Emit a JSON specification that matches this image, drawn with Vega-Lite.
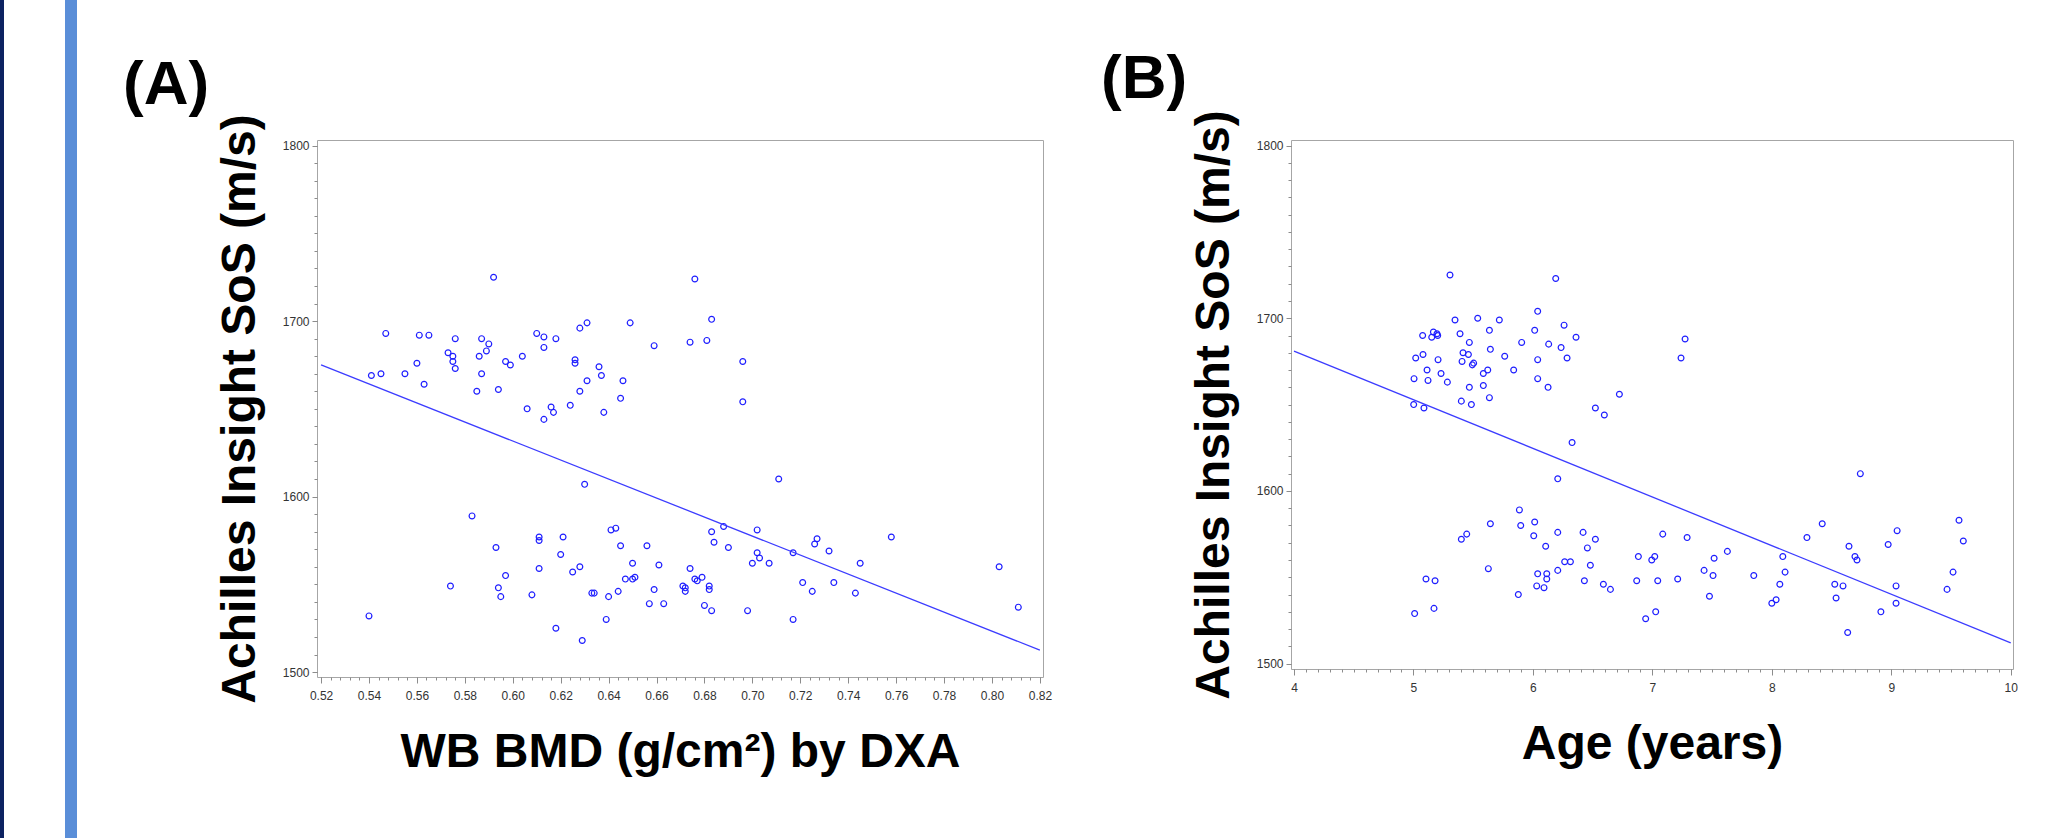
{
  "$schema": "https://vega.github.io/schema/vega-lite/v6.json",
  "background": "white",
  "padding": 0,
  "config": {
    "view": {"stroke": "#a6a6a6", "strokeWidth": 1},
    "axis": {"labelFont": "Liberation Sans", "labelFontSize": 12, "labelColor": "#333333", "titleFont": "Liberation Sans", "titleFontSize": 48, "titleFontWeight": "bold", "titleColor": "#000000", "tickColor": "#8c8c8c", "domain": false, "grid": false, "labelFlush": false, "labelOverlap": false},
    "title": {"font": "Liberation Sans", "fontWeight": "bold", "color": "#000000"}
  },
  "datasets": {
    "bmd": [
      {"bmd":0.592,"sos":1725},{"bmd":0.676,"sos":1724},{"bmd":0.547,"sos":1693},{"bmd":0.561,"sos":1692},{"bmd":0.565,"sos":1692},
      {"bmd":0.576,"sos":1690},{"bmd":0.587,"sos":1690},{"bmd":0.590,"sos":1687},{"bmd":0.589,"sos":1683},{"bmd":0.573,"sos":1682},
      {"bmd":0.575,"sos":1680},{"bmd":0.575,"sos":1677},{"bmd":0.576,"sos":1673},{"bmd":0.586,"sos":1680},{"bmd":0.587,"sos":1670},
      {"bmd":0.560,"sos":1676},{"bmd":0.541,"sos":1669},{"bmd":0.545,"sos":1670},{"bmd":0.555,"sos":1670},{"bmd":0.563,"sos":1664},
      {"bmd":0.585,"sos":1660},{"bmd":0.594,"sos":1661},{"bmd":0.597,"sos":1677},{"bmd":0.599,"sos":1675},{"bmd":0.604,"sos":1680},
      {"bmd":0.610,"sos":1693},{"bmd":0.613,"sos":1691},{"bmd":0.613,"sos":1685},{"bmd":0.618,"sos":1690},{"bmd":0.606,"sos":1650},
      {"bmd":0.616,"sos":1651},{"bmd":0.617,"sos":1648},{"bmd":0.613,"sos":1644},{"bmd":0.624,"sos":1652},{"bmd":0.626,"sos":1678},
      {"bmd":0.626,"sos":1676},{"bmd":0.628,"sos":1696},{"bmd":0.631,"sos":1699},{"bmd":0.636,"sos":1674},{"bmd":0.637,"sos":1669},
      {"bmd":0.631,"sos":1666},{"bmd":0.628,"sos":1660},{"bmd":0.638,"sos":1648},{"bmd":0.645,"sos":1656},{"bmd":0.646,"sos":1666},
      {"bmd":0.649,"sos":1699},{"bmd":0.659,"sos":1686},{"bmd":0.674,"sos":1688},{"bmd":0.681,"sos":1689},{"bmd":0.683,"sos":1701},
      {"bmd":0.696,"sos":1677},{"bmd":0.696,"sos":1654},{"bmd":0.630,"sos":1607},{"bmd":0.711,"sos":1610},{"bmd":0.583,"sos":1589},
      {"bmd":0.641,"sos":1581},{"bmd":0.643,"sos":1582},{"bmd":0.688,"sos":1583},{"bmd":0.683,"sos":1580},{"bmd":0.702,"sos":1581},
      {"bmd":0.611,"sos":1577},{"bmd":0.611,"sos":1575},{"bmd":0.621,"sos":1577},{"bmd":0.593,"sos":1571},{"bmd":0.645,"sos":1572},
      {"bmd":0.656,"sos":1572},{"bmd":0.684,"sos":1574},{"bmd":0.690,"sos":1571},{"bmd":0.702,"sos":1568},{"bmd":0.703,"sos":1565},
      {"bmd":0.717,"sos":1568},{"bmd":0.620,"sos":1567},{"bmd":0.611,"sos":1559},{"bmd":0.628,"sos":1560},{"bmd":0.625,"sos":1557},
      {"bmd":0.597,"sos":1555},{"bmd":0.650,"sos":1562},{"bmd":0.661,"sos":1561},{"bmd":0.700,"sos":1562},{"bmd":0.707,"sos":1562},
      {"bmd":0.674,"sos":1559},{"bmd":0.676,"sos":1553},{"bmd":0.677,"sos":1552},{"bmd":0.679,"sos":1554},{"bmd":0.671,"sos":1549},
      {"bmd":0.672,"sos":1548},{"bmd":0.672,"sos":1546},{"bmd":0.682,"sos":1549},{"bmd":0.682,"sos":1547},{"bmd":0.647,"sos":1553},
      {"bmd":0.650,"sos":1553},{"bmd":0.651,"sos":1554},{"bmd":0.659,"sos":1547},{"bmd":0.574,"sos":1549},{"bmd":0.594,"sos":1548},
      {"bmd":0.595,"sos":1543},{"bmd":0.608,"sos":1544},{"bmd":0.633,"sos":1545},{"bmd":0.634,"sos":1545},{"bmd":0.640,"sos":1543},
      {"bmd":0.644,"sos":1546},{"bmd":0.657,"sos":1539},{"bmd":0.663,"sos":1539},{"bmd":0.680,"sos":1538},{"bmd":0.683,"sos":1535},
      {"bmd":0.698,"sos":1535},{"bmd":0.717,"sos":1530},{"bmd":0.639,"sos":1530},{"bmd":0.540,"sos":1532},{"bmd":0.618,"sos":1525},
      {"bmd":0.629,"sos":1518},{"bmd":0.721,"sos":1551},{"bmd":0.725,"sos":1546},{"bmd":0.726,"sos":1573},{"bmd":0.727,"sos":1576},
      {"bmd":0.732,"sos":1569},{"bmd":0.734,"sos":1551},{"bmd":0.743,"sos":1545},{"bmd":0.745,"sos":1562},{"bmd":0.758,"sos":1577},
      {"bmd":0.803,"sos":1560},{"bmd":0.811,"sos":1537}
    ],
    "age": [
      {"age":5.306,"sos":1725},{"age":6.191,"sos":1723},{"age":6.040,"sos":1704},{"age":5.538,"sos":1700},{"age":5.348,"sos":1699},
      {"age":5.719,"sos":1699},{"age":6.261,"sos":1696},{"age":5.167,"sos":1692},{"age":5.197,"sos":1691},{"age":5.203,"sos":1690},
      {"age":5.077,"sos":1690},{"age":5.153,"sos":1689},{"age":5.390,"sos":1691},{"age":5.636,"sos":1693},{"age":6.015,"sos":1693},
      {"age":6.361,"sos":1689},{"age":5.468,"sos":1686},{"age":5.906,"sos":1686},{"age":6.132,"sos":1685},{"age":6.236,"sos":1683},
      {"age":7.274,"sos":1688},{"age":7.240,"sos":1677},{"age":5.415,"sos":1680},{"age":5.460,"sos":1679},{"age":5.644,"sos":1682},
      {"age":5.080,"sos":1679},{"age":5.019,"sos":1677},{"age":5.206,"sos":1676},{"age":5.407,"sos":1675},{"age":5.493,"sos":1673},
      {"age":5.504,"sos":1674},{"age":5.764,"sos":1678},{"age":6.040,"sos":1676},{"age":6.286,"sos":1677},{"age":5.114,"sos":1670},
      {"age":5.231,"sos":1668},{"age":5.585,"sos":1668},{"age":5.622,"sos":1670},{"age":5.839,"sos":1670},{"age":5.005,"sos":1665},
      {"age":5.122,"sos":1664},{"age":5.284,"sos":1663},{"age":5.468,"sos":1660},{"age":5.585,"sos":1661},{"age":6.040,"sos":1665},
      {"age":6.127,"sos":1660},{"age":6.724,"sos":1656},{"age":5.636,"sos":1654},{"age":5.401,"sos":1652},{"age":5.485,"sos":1650},
      {"age":5.002,"sos":1650},{"age":5.088,"sos":1648},{"age":6.523,"sos":1648},{"age":6.598,"sos":1644},{"age":6.328,"sos":1628},
      {"age":6.208,"sos":1607},{"age":5.887,"sos":1589},{"age":5.644,"sos":1581},{"age":5.898,"sos":1580},{"age":6.015,"sos":1582},
      {"age":5.446,"sos":1575},{"age":5.401,"sos":1572},{"age":6.208,"sos":1576},{"age":6.420,"sos":1576},{"age":6.007,"sos":1574},
      {"age":7.087,"sos":1575},{"age":7.291,"sos":1573},{"age":6.523,"sos":1572},{"age":6.107,"sos":1568},{"age":6.456,"sos":1567},
      {"age":7.628,"sos":1565},{"age":6.883,"sos":1562},{"age":6.995,"sos":1560},{"age":7.020,"sos":1562},{"age":7.517,"sos":1561},
      {"age":6.266,"sos":1559},{"age":6.314,"sos":1559},{"age":6.481,"sos":1557},{"age":5.627,"sos":1555},{"age":6.208,"sos":1554},
      {"age":6.040,"sos":1552},{"age":6.116,"sos":1552},{"age":6.116,"sos":1549},{"age":7.433,"sos":1554},{"age":7.508,"sos":1551},
      {"age":7.849,"sos":1551},{"age":5.105,"sos":1549},{"age":5.181,"sos":1548},{"age":6.431,"sos":1548},{"age":6.869,"sos":1548},
      {"age":7.045,"sos":1548},{"age":7.212,"sos":1549},{"age":6.032,"sos":1545},{"age":6.093,"sos":1544},{"age":6.590,"sos":1546},
      {"age":6.649,"sos":1543},{"age":5.878,"sos":1540},{"age":7.478,"sos":1539},{"age":5.172,"sos":1532},{"age":5.010,"sos":1529},
      {"age":7.028,"sos":1530},{"age":6.944,"sos":1526},{"age":8.000,"sos":1535},{"age":8.036,"sos":1537},{"age":8.067,"sos":1546},
      {"age":8.092,"sos":1562},{"age":8.111,"sos":1553},{"age":8.294,"sos":1573},{"age":8.422,"sos":1581},{"age":8.527,"sos":1546},
      {"age":8.596,"sos":1545},{"age":8.538,"sos":1538},{"age":8.635,"sos":1518},{"age":8.646,"sos":1568},{"age":8.696,"sos":1562},
      {"age":8.713,"sos":1560},{"age":8.741,"sos":1610},{"age":8.913,"sos":1530},{"age":8.974,"sos":1569},{"age":9.040,"sos":1545},
      {"age":9.040,"sos":1535},{"age":9.049,"sos":1577},{"age":9.467,"sos":1543},{"age":9.517,"sos":1553},{"age":9.567,"sos":1583},
      {"age":9.603,"sos":1571}
    ],
    "lineA": [{"bmd":0.52,"sos":1675},{"bmd":0.82,"sos":1512.5}],
    "lineB": [{"age":4,"sos":1681},{"age":10,"sos":1512}]
  },
  "spacing": 45,
  "hconcat": [
    {
      "spacing": 61,
      "hconcat": [
        {"width": 4, "height": 838, "data": {"values": []}, "mark": "point", "view": {"fill": "#0D2261", "stroke": null}},
        {"width": 12, "height": 838, "data": {"values": []}, "mark": "point", "view": {"fill": "#5A8ED8", "stroke": null}}
      ]
    },
    {
      "spacing": 37,
      "vconcat": [
        {"width": 1, "height": 10, "data": {"values": []}, "mark": "point", "view": {"stroke": null}},
        {
          "spacing": 47,
          "hconcat": [
            {
              "width": 726,
              "height": 537,
              "title": {"text": "(A)", "anchor": "start", "frame": "group", "fontSize": 62, "dx": -194, "offset": -3},
              "resolve": {"axis": {"x": "independent", "y": "independent"}},
              "layer": [
                {
                  "data": {"name": "bmd"},
                  "mark": {"type": "point", "shape": "circle", "filled": false, "size": 34, "strokeWidth": 1.2, "color": "#1e1eff", "opacity": 1},
                  "encoding": {
                    "x": {"field": "bmd", "type": "quantitative", "scale": {"domain": [0.5183, 0.8213], "nice": false, "zero": false},
                      "axis": {"orient": "bottom", "values": [0.52,0.54,0.56,0.58,0.6,0.62,0.64,0.66,0.68,0.7,0.72,0.74,0.76,0.78,0.8,0.82], "format": ".2f", "tickSize": 6, "labelPadding": 7, "title": "WB BMD (g/cm²) by DXA", "titlePadding": 27}},
                    "y": {"field": "sos", "type": "quantitative", "scale": {"domain": [1497.2, 1803.2], "nice": false, "zero": false},
                      "axis": {"orient": "left", "values": [1500,1600,1700,1800], "format": "d", "tickSize": 5, "labelPadding": 3, "title": "Achilles Insight SoS (m/s)", "titlePadding": 18}}
                  }
                },
                {
                  "data": {"name": "lineA"},
                  "mark": {"type": "line", "color": "#3c3cff", "strokeWidth": 1.3},
                  "encoding": {
                    "x": {"field": "bmd", "type": "quantitative", "scale": {"domain": [0.5183, 0.8213], "nice": false, "zero": false},
                      "axis": {"orient": "bottom", "values": [0.52,0.524,0.528,0.532,0.536,0.54,0.544,0.548,0.552,0.556,0.56,0.564,0.568,0.572,0.576,0.58,0.584,0.588,0.592,0.596,0.6,0.604,0.608,0.612,0.616,0.62,0.624,0.628,0.632,0.636,0.64,0.644,0.648,0.652,0.656,0.66,0.664,0.668,0.672,0.676,0.68,0.684,0.688,0.692,0.696,0.7,0.704,0.708,0.712,0.716,0.72,0.724,0.728,0.732,0.736,0.74,0.744,0.748,0.752,0.756,0.76,0.764,0.768,0.772,0.776,0.78,0.784,0.788,0.792,0.796,0.8,0.804,0.808,0.812,0.816,0.82], "labels": false, "tickSize": 3, "title": null}},
                    "y": {"field": "sos", "type": "quantitative", "scale": {"domain": [1497.2, 1803.2], "nice": false, "zero": false},
                      "axis": {"orient": "left", "values": [1500,1510,1520,1530,1540,1550,1560,1570,1580,1590,1600,1610,1620,1630,1640,1650,1660,1670,1680,1690,1700,1710,1720,1730,1740,1750,1760,1770,1780,1790,1800], "labels": false, "tickSize": 3, "title": null}}
                  }
                }
              ]
            },
            {
              "width": 722,
              "height": 529,
              "title": {"text": "(B)", "anchor": "start", "frame": "group", "fontSize": 62, "dx": -190, "offset": -1.5},
              "resolve": {"axis": {"x": "independent", "y": "independent"}},
              "layer": [
                {
                  "data": {"name": "age"},
                  "mark": {"type": "point", "shape": "circle", "filled": false, "size": 34, "strokeWidth": 1.2, "color": "#1e1eff", "opacity": 1},
                  "encoding": {
                    "x": {"field": "age", "type": "quantitative", "scale": {"domain": [3.975, 10.019], "nice": false, "zero": false},
                      "axis": {"orient": "bottom", "values": [4,5,6,7,8,9,10], "format": "d", "tickSize": 6, "labelPadding": 7, "title": "Age (years)", "titlePadding": 27}},
                    "y": {"field": "sos", "type": "quantitative", "scale": {"domain": [1496.9, 1803.2], "nice": false, "zero": false},
                      "axis": {"orient": "left", "values": [1500,1600,1700,1800], "format": "d", "tickSize": 5, "labelPadding": 3, "title": "Achilles Insight SoS (m/s)", "titlePadding": 18}}
                  }
                },
                {
                  "data": {"name": "lineB"},
                  "mark": {"type": "line", "color": "#3c3cff", "strokeWidth": 1.3},
                  "encoding": {
                    "x": {"field": "age", "type": "quantitative", "scale": {"domain": [3.975, 10.019], "nice": false, "zero": false},
                      "axis": {"orient": "bottom", "values": [4,4.1,4.2,4.3,4.4,4.5,4.6,4.7,4.8,4.9,5,5.1,5.2,5.3,5.4,5.5,5.6,5.7,5.8,5.9,6,6.1,6.2,6.3,6.4,6.5,6.6,6.7,6.8,6.9,7,7.1,7.2,7.3,7.4,7.5,7.6,7.7,7.8,7.9,8,8.1,8.2,8.3,8.4,8.5,8.6,8.7,8.8,8.9,9,9.1,9.2,9.3,9.4,9.5,9.6,9.7,9.8,9.9,10], "labels": false, "tickSize": 3, "title": null}},
                    "y": {"field": "sos", "type": "quantitative", "scale": {"domain": [1496.9, 1803.2], "nice": false, "zero": false},
                      "axis": {"orient": "left", "values": [1500,1510,1520,1530,1540,1550,1560,1570,1580,1590,1600,1610,1620,1630,1640,1650,1660,1670,1680,1690,1700,1710,1720,1730,1740,1750,1760,1770,1780,1790,1800], "labels": false, "tickSize": 3, "title": null}}
                  }
                }
              ]
            }
          ]
        }
      ]
    }
  ]
}
